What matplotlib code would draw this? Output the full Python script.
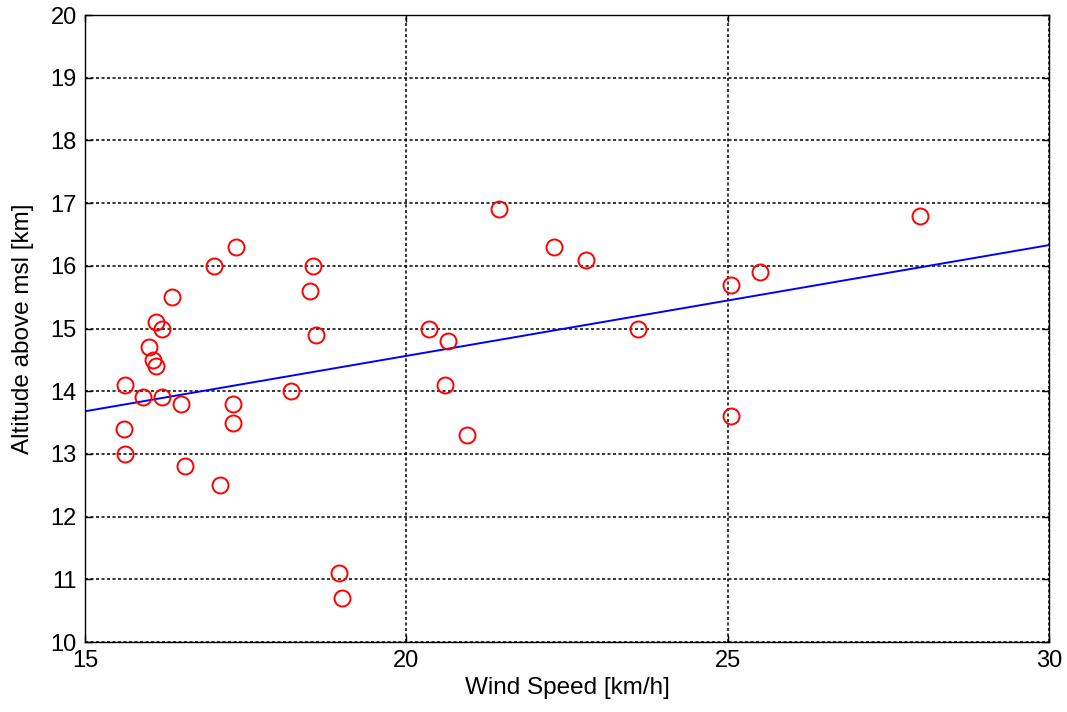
import matplotlib
matplotlib.use("Agg")
import matplotlib.pyplot as plt
import numpy as np

plt.rcParams['font.family'] = ['Liberation Sans', 'DejaVu Sans']

wind_speed = [15.62, 15.6, 15.62, 15.9, 16.0, 16.05, 16.1, 16.1, 16.2, 16.2,
              16.35, 16.5, 16.55, 17.0, 17.1, 17.35, 17.3, 17.3, 18.2, 18.5,
              18.55, 18.6, 18.95, 19.0, 20.35, 20.65, 20.6, 20.95, 21.45, 22.3,
              22.8, 23.6, 25.05, 25.05, 25.5, 28.0]
altitude = [14.1, 13.4, 13.0, 13.9, 14.7, 14.5, 14.4, 15.1, 15.0, 13.9,
            15.5, 13.8, 12.8, 16.0, 12.5, 16.3, 13.8, 13.5, 14.0, 15.6,
            16.0, 14.9, 11.1, 10.7, 15.0, 14.8, 14.1, 13.3, 16.9, 16.3,
            16.1, 15.0, 15.7, 13.6, 15.9, 16.8]

fit_x = [15, 30]
fit_y = [13.68, 16.33]

x_ticks = [15, 20, 25, 30]
y_ticks = [10, 11, 12, 13, 14, 15, 16, 17, 18, 19, 20]

fig = plt.figure(figsize=(10.67, 7.12), dpi=100)
ax = fig.add_axes([0.0797, 0.0983, 0.9033, 0.8806])

ax.plot(wind_speed, altitude, linestyle='none', marker='o', markersize=11.5,
        markerfacecolor='none', markeredgecolor='#ff0000', markeredgewidth=1.4, zorder=3)
ax.plot(fit_x, fit_y, color='#0000ff', linewidth=1.4, zorder=2)

ax.set_xlim(15, 30)
ax.set_ylim(10, 20)
ax.set_xticks(x_ticks)
ax.set_yticks(y_ticks)
ax.grid(True, color='black', linestyle=(0, (2, 1.6)), linewidth=1.1)
ax.tick_params(direction='in', top=True, right=True, labelsize=17, length=5, width=1,
               colors='black', pad=6)
for s in ax.spines.values():
    s.set_linewidth(1)
    s.set_color('black')

ax.set_xlabel('Wind Speed [km/h]', fontsize=17.5, labelpad=3)
ax.set_ylabel('Altitude above msl [km]', fontsize=17.5, labelpad=12)

fig.savefig('out.png', dpi=100)
